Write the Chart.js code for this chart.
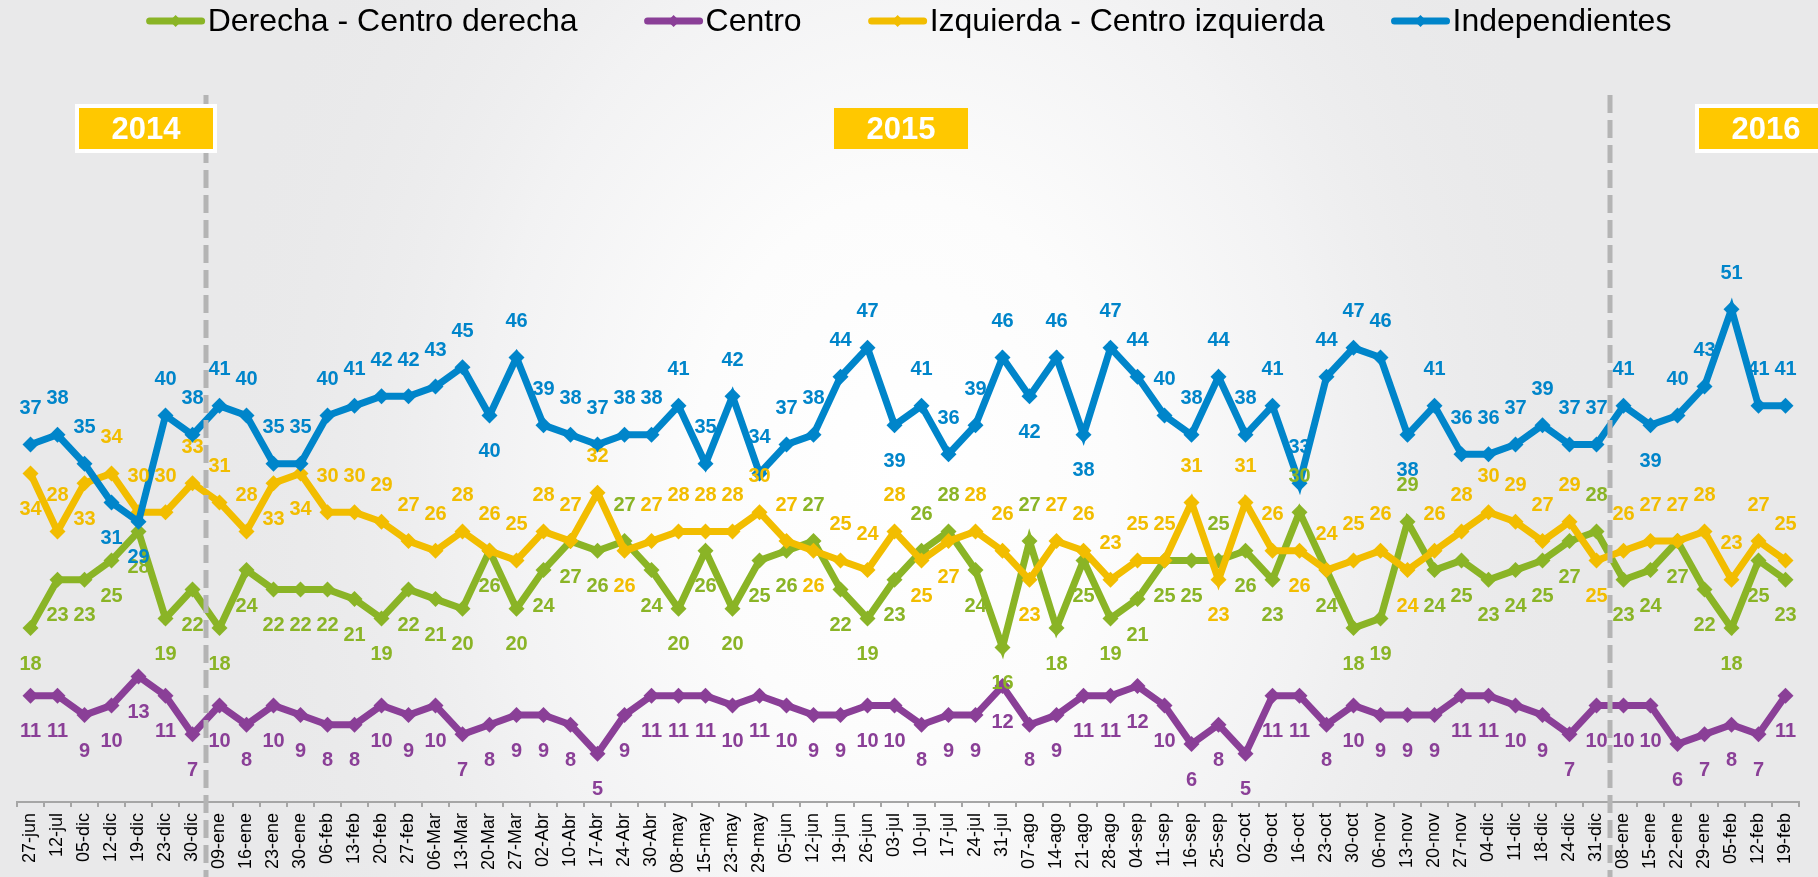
<!DOCTYPE html>
<html>
<head>
<meta charset="utf-8">
<script src="https://cdn.jsdelivr.net/npm/chart.js@4.4.1/dist/chart.umd.min.js"></script>
<style>
  html, body { margin: 0; padding: 0; background: #e9e9e9; }
  canvas { display: block; }
</style>
</head>
<body>
<canvas id="grafico" width="1818" height="877"></canvas>
<script>
// semanas de la encuesta
const fechas = ['27-jun','12-jul','05-dic','12-dic','19-dic','23-dic','30-dic','09-ene','16-ene','23-ene','30-ene',
  '06-feb','13-feb','20-feb','27-feb','06-Mar','13-Mar','20-Mar','27-Mar','02-Abr','10-Abr','17-Abr','24-Abr','30-Abr',
  '08-may','15-may','23-may','29-may','05-jun','12-jun','19-jun','26-jun','03-jul','10-jul','17-jul','24-jul','31-jul',
  '07-ago','14-ago','21-ago','28-ago','04-sep','11-sep','16-sep','25-sep','02-oct','09-oct','16-oct','23-oct','30-oct',
  '06-nov','13-nov','20-nov','27-nov','04-dic','11-dic','18-dic','24-dic','31-dic','08-ene','15-ene','22-ene','29-ene',
  '05-feb','12-feb','19-feb'];

const derecha = [18,23,23,25,28,19,22,18,24,22,22,22,21,19,22,21,20,26,20,24,27,26,27,24,20,26,20,25,26,27,22,19,
  23,26,28,24,16,27,18,25,19,21,25,25,25,26,23,30,24,18,19,29,24,25,23,24,25,27,28,23,24,27,22,18,25,23];

const centro = [11,11,9,10,13,11,7,10,8,10,9,8,8,10,9,10,7,8,9,9,8,5,9,11,11,11,10,11,10,9,9,10,
  10,8,9,9,12,8,9,11,11,12,10,6,8,5,11,11,8,10,9,9,9,11,11,10,9,7,10,10,10,6,7,8,7,11];

const izquierda = [34,28,33,34,30,30,33,31,28,33,34,30,30,29,27,26,28,26,25,28,27,32,26,27,28,28,28,30,27,26,25,24,
  28,25,27,28,26,23,27,26,23,25,25,31,23,31,26,26,24,25,26,24,26,28,30,29,27,29,25,26,27,27,28,23,27,25];

const independientes = [37,38,35,31,29,40,38,41,40,35,35,40,41,42,42,43,45,40,46,39,38,37,38,38,41,35,42,34,37,38,44,47,
  39,41,36,39,46,42,46,38,47,44,40,38,44,38,41,33,44,47,46,38,41,36,36,37,39,37,37,41,39,40,43,51,41,41];

const anios = ['2014', '2015', '2016'];

const VERDE = '#8ab426', MORADO = '#8a3f97', AMARILLO = '#f2bd00', AZUL = '#0085ca';
const FUENTE = "'Liberation Sans', Arial, sans-serif";

// fondo gris con brillo blanco al centro
const fondo = {
  id: 'fondo',
  beforeDraw(chart) {
    const ctx = chart.ctx, w = chart.width, h = chart.height;
    ctx.save();
    ctx.fillStyle = '#e9e9ea';
    ctx.fillRect(0, 0, w, h);
    ctx.translate(905, 470);
    ctx.scale(1, 1.3);
    const g = ctx.createRadialGradient(0, 0, 0, 0, 0, 700);
    g.addColorStop(0, '#ffffff');
    g.addColorStop(0.3, '#fcfcfc');
    g.addColorStop(0.6, '#f2f2f3');
    g.addColorStop(1, 'rgba(233,233,234,0)');
    ctx.fillStyle = g;
    ctx.fillRect(-905, -470 / 1.3, w, h / 1.3 + 100);
    ctx.restore();
  }
};

// lineas de corte de año y recuadros
const cortes = {
  id: 'cortes',
  afterDatasetsDraw(chart) {
    const ctx = chart.ctx, x = chart.scales.x;
    const b1 = (x.getPixelForValue(6) + x.getPixelForValue(7)) / 2;
    const b2 = (x.getPixelForValue(58) + x.getPixelForValue(59)) / 2;
    ctx.save();
    ctx.strokeStyle = '#b4b4b4';
    ctx.lineWidth = 5;
    ctx.setLineDash([18, 7]);
    [b1, b2].forEach(bx => {
      ctx.beginPath();
      ctx.moveTo(bx, 95);
      ctx.lineTo(bx, chart.height);
      ctx.stroke();
    });
    ctx.setLineDash([]);

    const caja = (izq, txt, borde) => {
      if (borde) {
        ctx.fillStyle = '#ffffff';
        ctx.fillRect(izq - 4, 104, 142, 49);
      }
      ctx.fillStyle = '#ffc800';
      ctx.fillRect(izq, 108, 134, 41);
      ctx.fillStyle = '#ffffff';
      ctx.font = 'bold 31px ' + FUENTE;
      ctx.textAlign = 'center';
      ctx.textBaseline = 'middle';
      ctx.fillText(txt, izq + 67, 130);
    };
    caja(b1 - 127, anios[0], true);
    caja(834, anios[1], false);
    caja(b2 + 89, anios[2], true);
    ctx.restore();
  }
};

// lado de la etiqueta: -1 arriba, 1 abajo
function ladoEtiqueta(label, i) {
  const az = independientes[i], am = izquierda[i], ve = derecha[i];
  if (label === 'Independientes') {
    if (az < am) return 1;
    const prev = i > 0 ? independientes[i - 1] : Infinity;
    const next = i < independientes.length - 1 ? independientes[i + 1] : Infinity;
    if (az < prev && az < next && az - am >= 10) return 1;
    return -1;
  }
  if (label === 'Centro') return 1;
  if (label.startsWith('Izquierda')) {
    if (am < ve) return 1;
    if (az - am >= 0 && az - am <= 4 && am - ve >= 6) return 1;
    return -1;
  }
  return ve > am ? -1 : 1;
}

// etiquetas de valor
const etiquetas = {
  id: 'etiquetas',
  afterDraw(chart) {
    const ctx = chart.ctx;
    ctx.save();
    ctx.font = 'bold 20px ' + FUENTE;
    ctx.textAlign = 'center';
    ctx.textBaseline = 'middle';
    chart.data.datasets.forEach((ds, di) => {
      const meta = chart.getDatasetMeta(di);
      ctx.fillStyle = ds.borderColor;
      meta.data.forEach((p, i) => {
        const lado = ladoEtiqueta(ds.label, i);
        ctx.fillText(String(ds.data[i]), p.x, p.y + lado * 36);
      });
    });
    ctx.restore();
  }
};

// leyenda superior
const leyenda = {
  id: 'leyenda',
  afterDraw(chart) {
    const ctx = chart.ctx;
    ctx.save();
    ctx.font = '32px ' + FUENTE;
    ctx.textBaseline = 'middle';
    const items = chart.data.datasets.map(ds => ({ txt: ds.label, color: ds.borderColor }));
    const anchos = items.map(it => 58 + 3 + ctx.measureText(it.txt).width);
    const total = anchos.reduce((a, b) => a + b, 0) + 67 * (items.length - 1);
    let x0 = chart.width / 2 - total / 2;
    const y = 21;
    items.forEach((it, k) => {
      ctx.strokeStyle = it.color;
      ctx.lineWidth = 7;
      ctx.lineCap = 'round';
      ctx.beginPath();
      ctx.moveTo(x0 + 3, y);
      ctx.lineTo(x0 + 55, y);
      ctx.stroke();
      ctx.fillStyle = it.color;
      ctx.beginPath();
      ctx.moveTo(x0 + 29, y - 6);
      ctx.lineTo(x0 + 35, y);
      ctx.lineTo(x0 + 29, y + 6);
      ctx.lineTo(x0 + 23, y);
      ctx.closePath();
      ctx.fill();
      ctx.fillStyle = '#000000';
      ctx.fillText(it.txt, x0 + 61, y + 1);
      x0 += anchos[k] + 67;
    });
    ctx.restore();
  }
};

const serie = (label, data, color, orden) => ({
  label: label,
  data: data,
  borderColor: color,
  backgroundColor: color,
  borderWidth: 7,
  pointStyle: 'rectRot',
  pointRadius: 8,
  pointBorderWidth: 0,
  tension: 0,
  order: orden
});

new Chart(document.getElementById('grafico'), {
  type: 'line',
  data: {
    labels: fechas,
    datasets: [
      serie('Derecha - Centro derecha', derecha, VERDE, 3),
      serie('Centro', centro, MORADO, 2),
      serie('Izquierda - Centro izquierda', izquierda, AMARILLO, 1),
      serie('Independientes', independientes, AZUL, 0)
    ]
  },
  options: {
    responsive: false,
    animation: false,
    devicePixelRatio: 1,
    layout: { padding: { top: 29, left: 17, right: 19, bottom: 0 } },
    plugins: {
      legend: { display: false },
      tooltip: { enabled: false }
    },
    scales: {
      x: {
        offset: true,
        afterFit(scale) { scale.height = 75; },
        grid: { offset: true, drawOnChartArea: false, drawTicks: true, tickLength: 5, color: '#a6a6a6', lineWidth: 2 },
        border: { display: true, color: '#a6a6a6', width: 2 },
        ticks: {
          autoSkip: false,
          minRotation: 90,
          maxRotation: 90,
          padding: 6,
          color: '#000000',
          font: { family: FUENTE, size: 18 }
        }
      },
      y: {
        display: false,
        min: 0,
        max: 80
      }
    }
  },
  plugins: [fondo, cortes, etiquetas, leyenda]
});
</script>
</body>
</html>
